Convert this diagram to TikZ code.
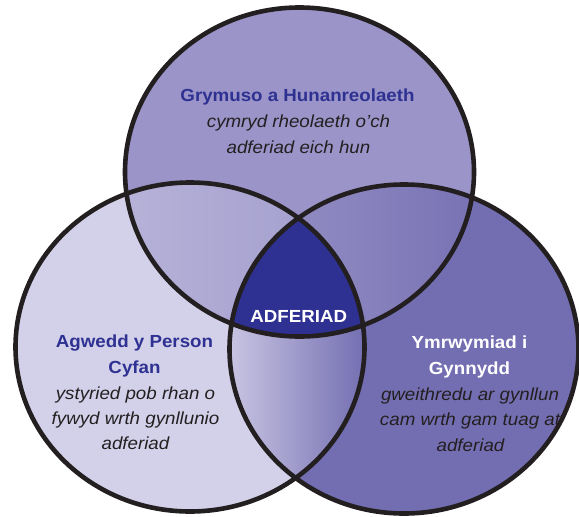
\documentclass[tikz,border=0pt]{standalone}
\usepackage{fontspec}
\setmainfont{Liberation Sans}[FakeStretch=1.07]
\definecolor{topfill}{HTML}{9A94C8}
\definecolor{leftfill}{HTML}{D3D1E9}
\definecolor{rightfill}{HTML}{736EB1}
\definecolor{corefill}{HTML}{2E3192}
\definecolor{edge}{HTML}{231F20}
\definecolor{titleblue}{HTML}{2E3192}
\definecolor{bodytext}{HTML}{231F20}
\tikzset{
  setline/.style={inner sep=0pt, anchor=base, font=\fontsize{17.5}{26}\selectfont},
  headline/.style={setline, font=\fontsize{17.5}{26}\selectfont\bfseries, text=titleblue},
  headwhite/.style={setline, font=\fontsize{17.5}{26}\selectfont\bfseries, text=white},
  bodyline/.style={setline, font=\fontsize{17.5}{26}\selectfont\itshape, text=bodytext},
  outline/.style={draw=edge, line width=4.6pt},
}
\begin{document}
\begin{tikzpicture}[x=1pt,y=-1pt]
\useasboundingbox (0,0) rectangle (579,517);
\coordinate (T) at (299.5,172);
\coordinate (L) at (190,347);
\coordinate (R) at (404,349);
\def\ell{ellipse [x radius=174.5pt, y radius=164.5pt]}
% base fills
\fill[topfill] (T) \ell;
\fill[leftfill] (L) \ell;
\fill[rightfill] (R) \ell;
% top & left lens
\begin{scope}
  \clip (T) \ell;
  \clip (L) \ell;
  \shade[left color={rgb,255:red,182;green,178;blue,216}, right color={rgb,255:red,160;green,155;blue,204}] (122,185) rectangle (370,335);
\end{scope}
% top & right lens
\begin{scope}
  \clip (T) \ell;
  \clip (R) \ell;
  \shade[left color={rgb,255:red,154;green,148;blue,200}, right color={rgb,255:red,120;green,114;blue,180}] (228,185) rectangle (478,335);
\end{scope}
% left & right lens
\begin{scope}
  \clip (L) \ell;
  \clip (R) \ell;
  \shade[left color={rgb,255:red,200;green,196;blue,226}, right color={rgb,255:red,115;green,110;blue,177}] (230,300) rectangle (366,480);
\end{scope}
% core
\begin{scope}
  \clip (T) \ell;
  \clip (L) \ell;
  \clip (R) \ell;
  \fill[corefill] (220,200) rectangle (380,345);
\end{scope}
% outlines
\draw[outline] (T) \ell;
\draw[outline] (L) \ell;
\draw[outline] (R) \ell;
% texts
\node[headline] (t1) at (297.5,101) {Grymuso a Hunanreolaeth};
\node[bodyline] (t2) at (298.5,127) {cymryd rheolaeth o’ch};
\node[bodyline] (t3) at (298.5,153) {adferiad eich hun};
\node[headwhite] (core) at (298.7,322) {ADFERIAD};
\node[headline] (l1) at (134.5,347) {Agwedd y Person};
\node[headline] (l2) at (134.5,373) {Cyfan};
\node[bodyline] (l3) at (135.5,399) {ystyried pob rhan o};
\node[bodyline] (l4) at (135.5,424) {fywyd wrth gynllunio};
\node[bodyline] (l5) at (135.5,449.5) {adferiad};
\node[headwhite] (r1) at (469.5,348.5) {Ymrwymiad i};
\node[headwhite] (r2) at (469.5,374.5) {Gynnydd};
\node[bodyline] (r3) at (470,400.5) {gweithredu ar gynllun};
\node[bodyline] (r4) at (470,425.5) {cam wrth gam tuag at};
\node[bodyline] (r5) at (470.5,451) {adferiad};
\end{tikzpicture}
\end{document}
